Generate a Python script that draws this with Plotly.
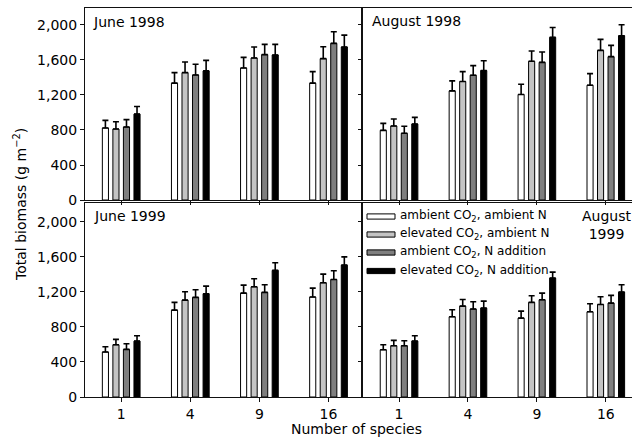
import plotly.graph_objects as go

species = ["1", "4", "9", "16"]
series_names = ["ambient CO<sub>2</sub>, ambient N",
                "elevated CO<sub>2</sub>, ambient N",
                "ambient CO<sub>2</sub>, N addition",
                "elevated CO<sub>2</sub>, N addition"]
series_colors = ["#ffffff", "#c4c4c4", "#7f7f7f", "#000000"]
panel_titles = ["June 1998", "August 1998", "June 1999", "August<br>1999"]

# means per panel, per series (order: species 1, 4, 9, 16)
june98_mean = [[823, 1335, 1509, 1335], [811, 1456, 1623, 1615],
               [834, 1429, 1661, 1790], [982, 1475, 1657, 1748]]
june98_err = [[87, 121, 121, 132], [84, 121, 125, 137],
              [84, 122, 117, 132], [87, 121, 121, 136]]
aug98_mean = [[796, 1247, 1206, 1312], [846, 1354, 1585, 1710],
              [762, 1426, 1573, 1638], [868, 1479, 1858, 1877]]
aug98_err = [[80, 114, 117, 132], [79, 113, 117, 125],
             [80, 110, 118, 129], [76, 113, 114, 125]]
june99_mean = [[513, 991, 1185, 1140], [596, 1105, 1257, 1303],
               [543, 1136, 1193, 1341], [638, 1178, 1444, 1504]]
june99_err = [[61, 88, 91, 102], [61, 95, 92, 99],
              [65, 87, 87, 99], [61, 87, 87, 95]]
aug99_mean = [[539, 915, 900, 972], [585, 1037, 1079, 1056],
              [585, 1003, 1109, 1071], [638, 1014, 1356, 1197]]
aug99_err = [[57, 80, 80, 92], [61, 76, 76, 87],
             [57, 83, 76, 88], [61, 80, 69, 83]]

y_ticks = [0, 400, 800, 1200, 1600, 2000]

FONT = "DejaVu Sans"
panels = [
    (june98_mean, june98_err, "x", "y"),
    (aug98_mean, aug98_err, "x2", "y2"),
    (june99_mean, june99_err, "x3", "y3"),
    (aug99_mean, aug99_err, "x4", "y4"),
]

fig = go.Figure()
for means, errs, xa, ya in panels:
    for s in range(4):
        fig.add_trace(go.Bar(
            x=species, y=means[s], xaxis=xa, yaxis=ya,
            name=series_names[s], showlegend=False,
            marker=dict(color=series_colors[s], line=dict(color="#000000", width=1)),
            error_y=dict(type="data", symmetric=False, array=errs[s],
                         arrayminus=[0] * len(errs[s]),
                         color="#000000", thickness=1.6, width=3),
        ))

W, H = 632, 441
ml, mr, mt, mb = 85, 0, 8, 44
pw, ph = W - ml - mr, H - mt - mb

def px_x(p):
    return (p - ml) / pw

def px_y(p):
    return (H - mb - p) / ph

xd_left = [0, px_x(361)]
xd_right = [px_x(363), 1]
yd_top = [px_y(200), 1]
yd_bot = [0, px_y(203)]

axis_common = dict(showline=True, linecolor="#111111", linewidth=1,
                   ticks="outside", ticklen=4, tickcolor="#111111",
                   tickfont=dict(family=FONT, size=14, color="#000000"),
                   showgrid=False, zeroline=False, automargin=False)

def xaxis(domain, anchor, labels, rng):
    d = dict(axis_common)
    d.update(domain=domain, anchor=anchor, type="category",
             categoryorder="array", categoryarray=species,
             range=rng, mirror=True, showticklabels=labels)
    return d

def yaxis(domain, anchor, labels, rng, mirror):
    d = dict(axis_common)
    d.update(domain=domain, anchor=anchor, range=rng, tickvals=y_ticks,
             tickformat=",", mirror=mirror, showticklabels=labels)
    return d

xl_rng = [-0.524, 3.47]
xr_rng = [-0.523, 3.38]
fig.update_layout(
    width=W, height=H,
    margin=dict(l=ml, r=mr, t=mt, b=mb, autoexpand=False),
    paper_bgcolor="#ffffff", plot_bgcolor="#ffffff",
    font=dict(family=FONT, size=14, color="#000000"),
    barmode="group", bargap=0.39, bargroupgap=0.42,
    separators=".,",
    xaxis=xaxis(xd_left, "y", False, xl_rng),
    yaxis=yaxis(yd_top, "x", True, [0, 2194], True),
    xaxis2=xaxis(xd_right, "y2", False, xr_rng),
    yaxis2=yaxis(yd_top, "x2", False, [0, 2194], False),
    xaxis3=xaxis(xd_left, "y3", True, xl_rng),
    yaxis3=yaxis(yd_bot, "x3", True, [0, 2213], True),
    xaxis4=xaxis(xd_right, "y4", True, xr_rng),
    yaxis4=yaxis(yd_bot, "x4", False, [0, 2213], False),
)

ann = []
# panel titles
ann.append(dict(text=panel_titles[0], xref="x domain", yref="y domain",
                x=0.022, y=0.927, xanchor="left", yanchor="middle",
                showarrow=False, font=dict(size=14)))
ann.append(dict(text=panel_titles[1], xref="x2 domain", yref="y2 domain",
                x=0.026, y=0.932, xanchor="left", yanchor="middle",
                showarrow=False, font=dict(size=14)))
ann.append(dict(text=panel_titles[2], xref="x3 domain", yref="y3 domain",
                x=0.025, y=0.933, xanchor="left", yanchor="middle",
                showarrow=False, font=dict(size=14)))
ann.append(dict(text=panel_titles[3], xref="x4 domain", yref="y4 domain",
                x=0.907, y=0.985, xanchor="center", yanchor="top",
                showarrow=False, font=dict(size=14)))

# axis titles
ann.append(dict(text="Total biomass (g m<sup>\u22122</sup>)", xref="paper", yref="paper",
                x=px_x(20), y=px_y(205), xanchor="center", yanchor="middle",
                textangle=-90, showarrow=False, font=dict(size=14)))
ann.append(dict(text="Number of species", xref="paper", yref="paper",
                x=px_x(356), y=px_y(429), xanchor="center", yanchor="middle",
                showarrow=False, font=dict(size=14)))

# custom legend inside the August 1999 panel
shapes = []
row_y = [216.5, 234.5, 252.5, 271]
dom_top, dom_bot = 203, 397
for i in range(4):
    yc = (dom_bot - row_y[i]) / (dom_bot - dom_top)
    hh = 2.6 / (dom_bot - dom_top)
    shapes.append(dict(type="rect", xref="x4 domain", yref="y4 domain",
                       x0=(367 - 363) / (W - 363), x1=(395 - 363) / (W - 363),
                       y0=yc - hh, y1=yc + hh,
                       fillcolor=series_colors[i],
                       line=dict(color="#000000", width=1)))
    ann.append(dict(text=series_names[i], xref="x4 domain", yref="y4 domain",
                    x=(398 - 363) / (W - 363), y=yc, xanchor="left", yanchor="middle",
                    showarrow=False, font=dict(size=12)))

fig.update_layout(annotations=ann, shapes=shapes)
fig.write_html("out.html", config={"displayModeBar": False},
               post_script="document.body.style.margin='0';document.body.style.padding='0';")
